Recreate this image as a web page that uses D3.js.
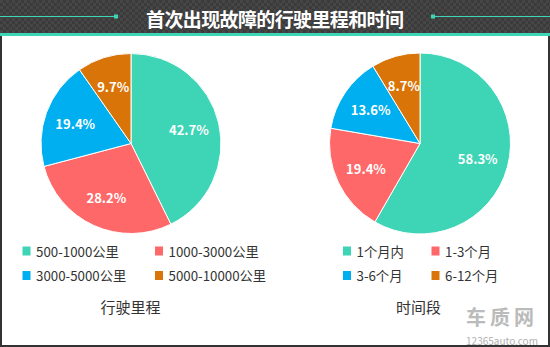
<!DOCTYPE html>
<html><head><meta charset="utf-8">
<script src="https://cdn.jsdelivr.net/npm/d3@7"></script>
<style>
html,body{margin:0;padding:0;background:#fff;}
svg{display:block;font-family:"Noto Sans CJK SC","Noto Sans",sans-serif;}
</style></head>
<body>
<svg id="c" width="550" height="347"></svg>
<script>
const title = "首次出现故障的行驶里程和时间";
const mileageCats = ["500-1000公里", "1000-3000公里", "3000-5000公里", "5000-10000公里"];
const mileageVals = [42.7, 28.2, 19.4, 9.7];
const timeCats = ["1个月内", "1-3个月", "3-6个月", "6-12个月"];
const timeVals = [58.3, 19.4, 13.6, 8.7];
const colors = ["#3DD5B5", "#FF6869", "#00AFEF", "#D97408"];
const chartTitles = ["行驶里程", "时间段"];

const svg = d3.select("#c");
const W = 550, H = 347;

const defs = svg.append("defs");
const pat = defs.append("pattern").attr("id","chk").attr("width",6).attr("height",6).attr("patternUnits","userSpaceOnUse");
pat.append("rect").attr("width",6).attr("height",6).attr("fill","#3b3b3b");
pat.append("rect").attr("width",3).attr("height",3).attr("fill","#464646");
pat.append("rect").attr("x",3).attr("y",3).attr("width",3).attr("height",3).attr("fill","#464646");

svg.append("rect").attr("x",0).attr("y",0).attr("width",W).attr("height",H).attr("fill","#333");
svg.append("rect").attr("x",2).attr("y",36).attr("width",W-4).attr("height",H-38).attr("fill","#fff");
svg.append("rect").attr("x",0).attr("y",0).attr("width",W).attr("height",33).attr("fill","url(#chk)");
svg.append("rect").attr("x",0).attr("y",33).attr("width",W).attr("height",3).attr("fill","#3DD5B5");

svg.append("line").attr("x1",0).attr("x2",116).attr("y1",16.5).attr("y2",16.5).attr("stroke","#3DD5B5").attr("stroke-width",1.2);
svg.append("rect").attr("x",114).attr("y",14.5).attr("width",4).attr("height",4).attr("fill","#3DD5B5");
svg.append("line").attr("x1",433).attr("x2",W).attr("y1",16.5).attr("y2",16.5).attr("stroke","#3DD5B5").attr("stroke-width",1.2);
svg.append("rect").attr("x",431).attr("y",14.5).attr("width",4).attr("height",4).attr("fill","#3DD5B5");

svg.append("text").attr("x",W/2).attr("y",18).attr("text-anchor","middle").attr("dominant-baseline","central")
  .attr("fill","#fff").attr("font-size",19).attr("font-weight","bold")
  .attr("textLength",258).attr("lengthAdjust","spacing").text(title);

const color = d3.scaleOrdinal().range(colors);
const pie = d3.pie().sort(null).value(d => d.v);

function drawPie(cx, cy, R, cats, vals, legX, legX2, chartTitle, titleX) {
  const data = cats.map((c,i) => ({c, v: vals[i]}));
  color.domain(cats);
  const g = svg.append("g").attr("transform",`translate(${cx},${cy})`);
  const arc = d3.arc().innerRadius(0).outerRadius(R);
  const lab = d3.arc().innerRadius(R*0.66).outerRadius(R*0.66);
  const arcs = pie(data);
  g.selectAll("path").data(arcs).join("path").attr("d",arc)
    .attr("fill",d => color(d.data.c)).attr("stroke","#fff").attr("stroke-width",1);
  g.selectAll("text").data(arcs).join("text")
    .attr("transform",d => `translate(${lab.centroid(d)})`)
    .attr("text-anchor","middle").attr("dominant-baseline","central")
    .attr("fill","#fff").attr("font-size",13).attr("font-weight","bold")
    .text(d => d3.format(".1f")(d.data.v) + "%");
  const lg = svg.append("g");
  data.forEach((d,i) => {
    const x = i % 2 === 0 ? legX : legX2;
    const y = i < 2 ? 251 : 275.5;
    lg.append("rect").attr("x",x).attr("y",y-4.5).attr("width",8).attr("height",9).attr("fill",color(d.c));
    lg.append("text").attr("x",x+13.5).attr("y",y).attr("dominant-baseline","central")
      .attr("fill","#333").attr("font-size",13.3).text(d.c);
  });
  svg.append("text").attr("x",titleX).attr("y",306).attr("text-anchor","middle").attr("dominant-baseline","central")
    .attr("fill","#333").attr("font-size",15).text(chartTitle);
}

drawPie(131, 143.5, 90, mileageCats, mileageVals, 22.5, 155, chartTitles[0], 130.5);
drawPie(420, 143.5, 90.5, timeCats, timeVals, 343, 431.5, chartTitles[1], 418.5);

svg.append("text").attr("x",502).attr("y",316).attr("text-anchor","middle").attr("dominant-baseline","central")
  .attr("fill","#bbbbbb").attr("font-size",20).attr("font-weight","bold").attr("letter-spacing",4).text("车质网");
svg.append("text").attr("x",502).attr("y",340).attr("text-anchor","middle").attr("dominant-baseline","central")
  .attr("fill","#b0b0b0").attr("font-size",10).text("12365auto.com");
</script>
</body></html>
